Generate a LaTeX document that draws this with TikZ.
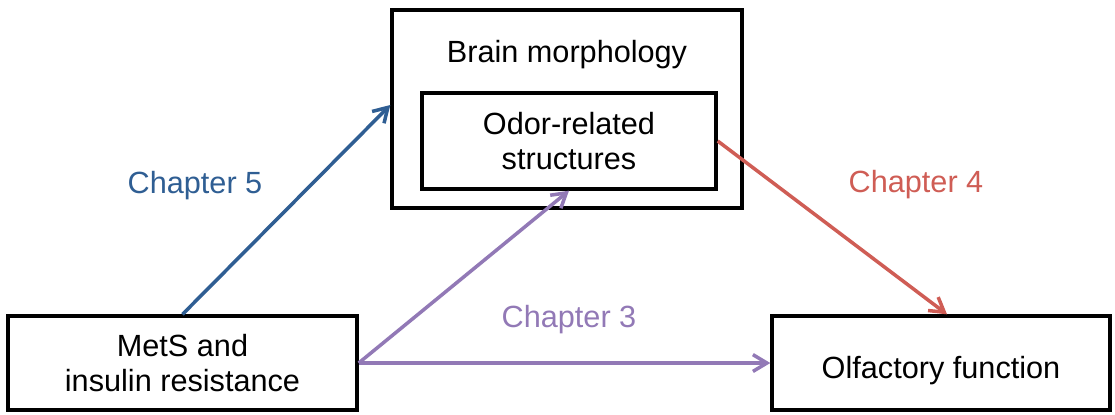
\documentclass[tikz,border=0pt]{standalone}
\usepackage{fontspec}
\setmainfont{Liberation Sans}
\usepackage{tikz}
\usetikzlibrary{arrows.meta, positioning}
\definecolor{kapblau}{HTML}{2F5E93}
\definecolor{kaplila}{HTML}{9279B6}
\definecolor{kaprot}{HTML}{CF5D55}

\begin{document}
\begin{tikzpicture}[x=0.025cm, y=-0.025cm,
        box/.style={draw, line width=2.4pt, align=center, inner sep=0pt,
                    font=\fontsize{21.8}{25}\selectfont},
        lbl/.style={font=\fontsize{21.8}{25}\selectfont},
        arr/.style={-{Straight Barb[length=0.35cm, width=0.42cm]}, line width=2.5pt}
      ]
      \useasboundingbox (0,0) rectangle (1115,414);

      % Kasten oben (Gehirn) mit innerem Kasten
      \node[box, minimum width=350*0.025cm, minimum height=198*0.025cm] (brain) at (567,109) {};
      \node[lbl] (brainlbl) at (567,55) {Brain morphology};
      \node[box, minimum width=294*0.025cm, minimum height=96*0.025cm] (odor) at (569,141)
        {Odor-related\\structures};

      % Kaesten unten
      \node[box, minimum width=349*0.025cm, minimum height=94*0.025cm] (mets) at (182.5,363)
        {MetS and\\insulin resistance};
      \node[box, minimum width=338*0.025cm, minimum height=94*0.025cm,
            text height=0.85cm, text depth=0.1cm] (olf) at (941,363)
        {Olfactory function};

      % Pfeile
      \draw[arr, kapblau] (mets.north) -- ([yshift=0.1cm]brain.west);
      \draw[arr, kaplila] (mets.east) -- (odor.south);
      \draw[arr, kaplila] (mets.east) -- (olf.west);
      \draw[arr, kaprot] (odor.east) -- ([xshift=0.15cm]olf.north);

      % Kapitel
      \node[lbl, text=kapblau] (ch5) at (195,186) {Chapter 5};
      \node[lbl, text=kaprot] (ch4) at (916,185) {Chapter 4};
      \node[lbl, text=kaplila] (ch3) at (569,320) {Chapter 3};
    \end{tikzpicture}
\end{document}
